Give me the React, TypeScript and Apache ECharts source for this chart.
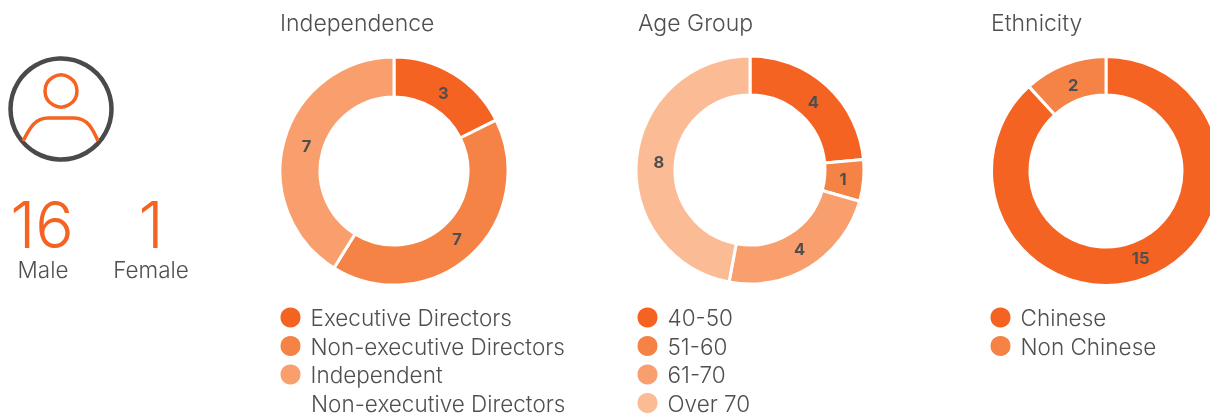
import React, { useEffect, useRef } from "react";
import * as echarts from "echarts";

const independenceNames = ["Executive Directors", "Non-executive Directors", "Independent Non-executive Directors"];
const independenceValues = [3, 7, 7];
const ageNames = ["40-50", "51-60", "61-70", "Over 70"];
const ageValues = [4, 1, 4, 8];
const ethnicityNames = ["Chinese", "Non Chinese"];
const ethnicityValues = [15, 2];
const palette = ["#F46322", "#F58346", "#F99F6E", "#FBBC95"];
const titles = ["Independence", "Age Group", "Ethnicity"];
const genderCounts = ["16", "1"];
const genderLabels = ["Male", "Female"];

const FONT = "Inter";
const GREY = "#4f4f4f";
const TEXT_SIZE = 22.5;
const TITLE_SIZE = 23;

echarts.graphic.registerShape(
  "shoulders",
  echarts.graphic.extendPath(
    "M23 141 C29 130 34 118 48 118 L74 118 C88 118 93 130 98 141",
    {}
  )
);

function pie(name: string, names: string[], values: number[], center: number[], radius: number[]) {
  return {
    type: "pie",
    name,
    center,
    radius,
    startAngle: 90,
    clockwise: true,
    silent: true,
    itemStyle: { borderColor: "#fff", borderWidth: 3 },
    label: {
      show: true,
      position: "inside",
      formatter: "{c}",
      fontFamily: FONT,
      fontWeight: "bold",
      fontSize: 16.5,
      color: GREY,
    },
    labelLine: { show: false },
    labelLayout: (p: any) => {
      const lx = p.labelRect.x + p.labelRect.width / 2 - center[0];
      const ly = p.labelRect.y + p.labelRect.height / 2 - center[1];
      const d = Math.hypot(lx, ly) || 1;
      return { dx: (-lx / d) * 5 + 1, dy: (-ly / d) * 5 + 0.5 };
    },
    data: names.map((n, i) => ({ name: n, value: values[i], itemStyle: { color: palette[i] } })),
  };
}

function legend(names: string[], left: number) {
  return {
    data: names,
    left,
    top: 305.5,
    height: 130,
    orient: "vertical",
    itemWidth: 22,
    itemHeight: 22,
    itemGap: 4.5,
    icon: "circle",
    padding: 0,
    selectedMode: false,
    formatter: (n: string) => (n.startsWith("Independent") ? "Independent" : n),
    textStyle: { fontFamily: FONT, fontWeight: 300, fontSize: TEXT_SIZE, lineHeight: 22, color: GREY, padding: [0, 0, 0, 4] },
  };
}

function text(t: string, x: number, y: number, fontSize: number, fill: string, align = "left") {
  return {
    type: "text",
    x,
    y,
    style: { text: t, fontFamily: FONT, fontWeight: 300, fontSize, lineHeight: Math.round(fontSize * 0.8), fill, align, verticalAlign: "middle" },
  };
}

export default function App() {
  const ref = useRef<HTMLDivElement>(null);
  useEffect(() => {
    document.body.style.margin = "0";
    const chart = echarts.init(ref.current!, undefined, { renderer: "svg" });
    chart.setOption({
      animation: false,
      legend: [legend(independenceNames, 278.5), legend(ageNames, 635.5), legend(ethnicityNames, 988.5)],
      series: [
        pie("Independence", independenceNames, independenceValues, [394, 171], [74, 114]),
        pie("Age Group", ageNames, ageValues, [750, 170], [75, 114]),
        pie("Ethnicity", ethnicityNames, ethnicityValues, [1106, 171], [76, 114.5]),
      ],
      graphic: [
        text(titles[0], 280, 23, TITLE_SIZE, GREY),
        text(titles[1], 638, 23, TITLE_SIZE, GREY),
        text(titles[2], 991, 23, TITLE_SIZE, GREY),
        text("Non-executive Directors", 311, 403, TEXT_SIZE, GREY),
        text(genderCounts[0], 42, 224, 64, palette[0], "center"),
        text(genderCounts[1], 151, 224, 64, palette[0], "center"),
        text(genderLabels[0], 43, 269, TEXT_SIZE, GREY, "center"),
        text(genderLabels[1], 151, 269, TEXT_SIZE, GREY, "center"),
        { type: "circle", shape: { cx: 61, cy: 109, r: 50.5 }, style: { fill: "none", stroke: "#4a4a4a", lineWidth: 4.5 } },
        { type: "circle", shape: { cx: 61, cy: 91, r: 16 }, style: { fill: "none", stroke: palette[0], lineWidth: 3.5 } },
        { type: "shoulders", style: { fill: "none", stroke: palette[0], lineWidth: 3.5 } },
      ],
    });
    return () => chart.dispose();
  }, []);
  return <div ref={ref} style={{ position: "fixed", left: 0, top: 0, width: 1210, height: 413 }} />;
}
